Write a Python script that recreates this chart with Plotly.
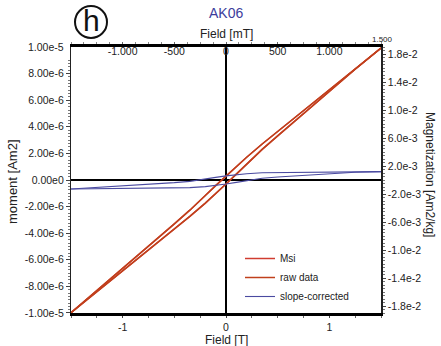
import plotly.graph_objects as go

# ---------------- data ----------------
# Field values (T) for the descending branch (from +1.5 T to -1.5 T)
H_desc = [1.5, 1.25, 1.0, 0.75, 0.5, 0.35, 0.2, 0.1, 0.0, -0.1, -0.2, -0.35, -0.5, -0.75, -1.0, -1.25, -1.5]
# Field values (T) for the ascending branch (from -1.5 T to +1.5 T)
H_asc = [-1.5, -1.25, -1.0, -0.75, -0.5, -0.35, -0.2, -0.1, 0.0, 0.1, 0.2, 0.35, 0.5, 0.75, 1.0, 1.25, 1.5]

# moment in units of 1e-6 Am2
msi_desc = [9.93, 8.37, 6.81, 5.24, 3.67, 2.71, 1.71, 1.02, 0.31, -0.42, -1.16, -2.27, -3.30, -4.98, -6.65, -8.32, -9.98]
msi_asc = [-9.98, -8.41, -6.84, -5.27, -3.70, -2.74, -1.74, -1.04, -0.30, 0.44, 1.19, 2.30, 3.32, 4.99, 6.68, 8.33, 9.93]

raw_desc = [9.93, 8.37, 6.81, 5.24, 3.67, 2.71, 1.71, 1.02, 0.31, -0.42, -1.16, -2.27, -3.30, -4.98, -6.65, -8.32, -9.98]
raw_asc = [-9.98, -8.41, -6.84, -5.27, -3.70, -2.74, -1.74, -1.04, -0.30, 0.44, 1.19, 2.30, 3.32, 4.99, 6.68, 8.33, 9.93]

slope_desc = [0.63, 0.62, 0.61, 0.59, 0.57, 0.54, 0.47, 0.40, 0.31, 0.20, 0.08, -0.10, -0.20, -0.33, -0.45, -0.57, -0.68]
slope_asc = [-0.68, -0.66, -0.64, -0.62, -0.60, -0.57, -0.50, -0.42, -0.30, -0.18, -0.05, 0.13, 0.22, 0.34, 0.48, 0.58, 0.63]

left_tickvals = [8e-6, 6e-6, 4e-6, 2e-6, 0, -2e-6, -4e-6, -6e-6, -8e-6, -1e-5]
left_ticktext = ["8.00e-6", "6.00e-6", "4.00e-6", "2.00e-6", "0.00e0",
                 "-2.00e-6", "-4.00e-6", "-6.00e-6", "-8.00e-6", "-1.00e-5"]
left_top_tickval = [1e-5]
left_top_ticktext = ["1.00e-5"]
right_tickvals = [1.8e-2, 1.4e-2, 1.0e-2, 6.0e-3, 2.0e-3, -2.0e-3, -6.0e-3, -1.0e-2, -1.4e-2, -1.8e-2]
right_ticktext = ["1.8e-2", "1.4e-2", "1.0e-2", "6.0e-3", "2.0e-3", "-2.0e-3", "-6.0e-3", "-1.0e-2", "-1.4e-2", "-1.8e-2"]
top_tickvals = [-1000, -500, 0, 500, 1000]
top_ticktext = ["-1.000", "-500", "0", "500", "1.000"]
bottom_tickvals = [-1, 0, 1]
bottom_ticktext = ["-1", "0", "1"]

FONT = "Liberation Sans, Arial, sans-serif"

def scale(vals):
    return [v * 1e-6 for v in vals]

fig = go.Figure()

def add_loop(name, hd, md, ha, ma, color, width):
    x = hd + [None] + ha
    y = scale(md) + [None] + scale(ma)
    fig.add_trace(go.Scatter(x=x, y=y, mode="lines", name=name,
                             line=dict(color=color, width=width),
                             connectgaps=False, xaxis="x", yaxis="y"))

add_loop("Msi", H_desc, msi_desc, H_asc, msi_asc, "#d03c30", 1.5)
add_loop("raw data", H_desc, raw_desc, H_asc, raw_asc, "#c0401c", 1.5)
add_loop("slope-corrected", H_desc, slope_desc, H_asc, slope_asc, "#4a4aa0", 1.1)

# transparent traces to activate the secondary axes
fig.add_trace(go.Scatter(x=[-1500, 1500], y=[0, 0], xaxis="x2", yaxis="y", mode="lines",
                         line=dict(color="rgba(0,0,0,0)", width=0),
                         showlegend=False, hoverinfo="skip"))
fig.add_trace(go.Scatter(x=[-1.5, 1.5], y=[0, 0], xaxis="x", yaxis="y2", mode="lines",
                         line=dict(color="rgba(0,0,0,0)", width=0),
                         showlegend=False, hoverinfo="skip"))

W, H = 441, 346
L, R, T, B = 71, 60, 47, 33
pw, ph = W - L - R, H - T - B

def px(xp):
    return (xp - L) / pw

def py(yp):
    return (H - B - yp) / ph

tickfont = dict(family=FONT, size=10.5, color="#222")

fig.update_layout(
    width=W, height=H,
    margin=dict(l=L, r=R, t=T, b=B, pad=0),
    paper_bgcolor="white", plot_bgcolor="white",
    font=dict(family=FONT, size=11, color="#222"),
    showlegend=True,
    legend=dict(x=px(240), y=py(244), xanchor="left", yanchor="top",
                bgcolor="rgba(0,0,0,0)", font=dict(family=FONT, size=10, color="#222"),
                itemwidth=30, tracegroupgap=0),
    xaxis=dict(range=[-1.5, 1.5], tickvals=bottom_tickvals, ticktext=bottom_ticktext,
               showgrid=False, zeroline=True, zerolinecolor="black", zerolinewidth=1.5,
               showline=True, linecolor="black", linewidth=3, mirror=False,
               ticks="outside", ticklen=2, tickcolor="#444", tickfont=tickfont,
               minor=dict(dtick=0.25, ticks="outside", ticklen=2, tickcolor="#666"),
               side="bottom"),
    xaxis2=dict(range=[-1500, 1500], overlaying="x", side="top", anchor="y",
                tickvals=top_tickvals, ticktext=top_ticktext, showgrid=False, zeroline=False,
                showline=True, linecolor="black", linewidth=3,
                ticks="outside", ticklen=2, tickcolor="#666", ticklabelposition="inside",
                tickfont=tickfont,
                minor=dict(dtick=125, ticks="outside", ticklen=2, tickcolor="#888")),
    yaxis=dict(range=[-1.0002e-5, 1.0002e-5], tickvals=left_tickvals, ticktext=left_ticktext,
               showgrid=False, zeroline=True, zerolinecolor="black", zerolinewidth=2,
               showline=True, linecolor="#222", linewidth=1.2,
               ticks="outside", ticklen=4, tickcolor="#444", tickfont=tickfont,
               minor=dict(dtick=2.5e-7, ticks="outside", ticklen=2, tickcolor="#777")),
    yaxis2=dict(range=[-0.019, 0.019], overlaying="y", side="right", anchor="x",
                tickvals=right_tickvals, ticktext=right_ticktext, showgrid=False,
                zeroline=False, showline=True, linecolor="#222", linewidth=1.5,
                ticks="outside", ticklen=3, tickcolor="#444", tickfont=tickfont,
                minor=dict(dtick=5e-4, ticks="outside", ticklen=2, tickcolor="#777")),
    annotations=[
        dict(text=left_top_ticktext[0], x=0, y=left_top_tickval[0], xref="paper", yref="y",
             xshift=-5, showarrow=False, font=tickfont, xanchor="right", yanchor="middle"),
        dict(text="Field [T]", x=px(226), y=py(340), xref="paper", yref="paper",
             showarrow=False, font=dict(family=FONT, size=12, color="#222"),
             xanchor="center", yanchor="middle"),
        dict(text="Field [mT]", x=px(226), y=py(34), xref="paper", yref="paper",
             showarrow=False, font=dict(family=FONT, size=12, color="#222"),
             xanchor="center", yanchor="middle"),
        dict(text="AK06", x=px(226), y=py(13), xref="paper", yref="paper",
             showarrow=False, font=dict(family=FONT, size=14, color="#3c3c9c"),
             xanchor="center", yanchor="middle"),
        dict(text="moment [Am2]", x=px(12), y=py(182), xref="paper", yref="paper",
             showarrow=False, textangle=-90, font=dict(family=FONT, size=13, color="#222"),
             xanchor="center", yanchor="middle"),
        dict(text="Magnetization [Am2/kg]", x=px(430), y=py(175), xref="paper", yref="paper",
             showarrow=False, textangle=90, font=dict(family=FONT, size=12, color="#222"),
             xanchor="center", yanchor="middle"),
        dict(text="1.500", x=px(382), y=py(40), xref="paper", yref="paper",
             showarrow=False, font=dict(family=FONT, size=8, color="#222"),
             xanchor="center", yanchor="middle"),
        dict(text="h", x=px(91), y=py(21), xref="paper", yref="paper",
             showarrow=False, font=dict(family=FONT, size=30, color="#111"),
             xanchor="center", yanchor="middle"),
    ],
    shapes=[
        dict(type="circle", xref="paper", yref="paper",
             x0=px(75), x1=px(107), y0=py(38), y1=py(6),
             line=dict(color="#111", width=2)),
    ],
)

fig.write_html("out.html")
